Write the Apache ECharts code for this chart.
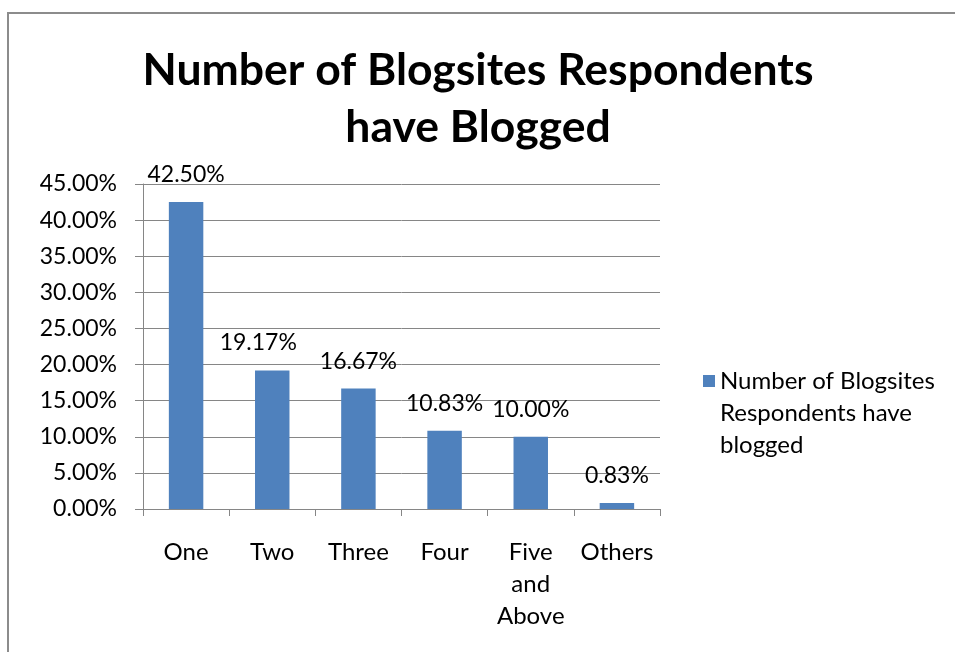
<!DOCTYPE html>
<html><head><meta charset="utf-8">
<script src="https://cdn.jsdelivr.net/npm/echarts@6/dist/echarts.min.js"></script>
<style>html,body{margin:0;padding:0;background:#fff}#c{width:955px;height:652px}</style>
</head><body><div id="c"></div>
<script>
const titleText = 'Number of Blogsites Respondents\nhave Blogged';
const seriesName = 'Number of Blogsites Respondents have blogged';
const categories = ['One', 'Two', 'Three', 'Four', 'Five and Above', 'Others'];
const values = [0.425, 0.1917, 0.1667, 0.1083, 0.10, 0.0083];
const yMin = 0, yMax = 0.45, yStep = 0.05;

const font = 'Lato, "Open Sans", sans-serif';
const labelOffsets = [[0,0],[-14,0],[0,0],[0,0],[0,0],[0,0]];
const chart = echarts.init(document.getElementById('c'), null, {renderer: 'canvas'});
chart.setOption({
  backgroundColor: '#fff',
  animation: false,
  graphic: [{type: 'rect', shape: {x: 8, y: 13, width: 980, height: 700}, style: {fill: 'none', stroke: '#8c8c8c', lineWidth: 2}}],
  title: {text: titleText, left: 473, textAlign: 'center', top: 37,
    textStyle: {fontFamily: font, fontWeight: 'bold', fontSize: 44.5, lineHeight: 57, color: '#000'}},
  legend: {orient: 'vertical', left: 698, top: 360, itemWidth: 12, itemHeight: 76, itemGap: 0,
    icon: 'path://M0,0h12v12h-12z M0,76h0.01v0.01h-0.01z',
    formatter: () => 'Number of Blogsites\nRespondents have\nblogged',
    textStyle: {fontFamily: font, fontSize: 24, lineHeight: 32, color: '#000'}},
  grid: {left: 143, right: 295, top: 184, bottom: 143, containLabel: false},
  xAxis: {type: 'category', data: categories,
    axisLine: {lineStyle: {color: '#868686', width: 1}},
    axisTick: {show: true, length: 7, lineStyle: {color: '#868686'}},
    axisLabel: {margin: 27, interval: 0, fontFamily: font, fontSize: 24, lineHeight: 32, color: '#000',
      formatter: v => v.split(' ').join('\n')}},
  yAxis: {type: 'value', min: yMin, max: yMax, interval: yStep,
    axisLine: {show: true, lineStyle: {color: '#868686'}},
    axisTick: {show: true, length: 8, lineStyle: {color: '#868686'}},
    splitLine: {lineStyle: {color: '#868686', width: 1}},
    axisLabel: {margin: 26, fontFamily: font, fontSize: 23, color: '#000',
      formatter: v => (v * 100).toFixed(2) + '%'}},
  series: [{name: seriesName, type: 'bar', barWidth: '40%',
    itemStyle: {color: '#4F81BD'},
    data: values.map((v, i) => ({value: v, label: {offset: labelOffsets[i]}})),
    label: {show: true, position: 'top', distance: 16, fontFamily: font, fontSize: 23, color: '#000',
      formatter: p => (p.value * 100).toFixed(2) + '%'}}]
});
</script></body></html>
